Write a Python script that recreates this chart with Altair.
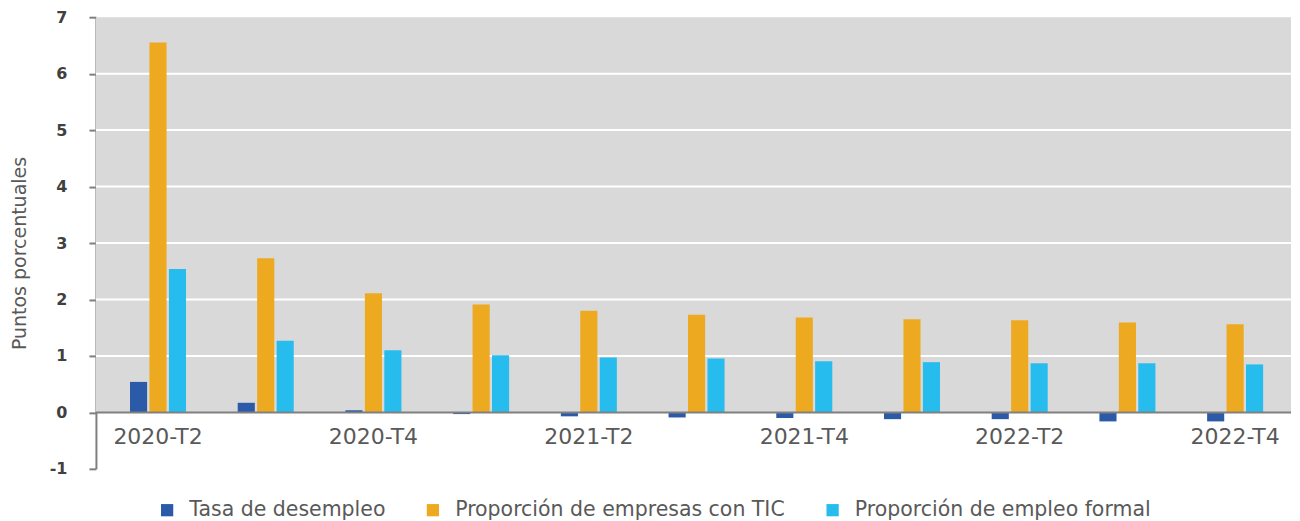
import altair as alt
import pandas as pd

quarters = ["2020-T2", "2020-T3", "2020-T4", "2021-T1", "2021-T2", "2021-T3",
            "2021-T4", "2022-T1", "2022-T2", "2022-T3", "2022-T4"]
shown_labels = ["2020-T2", "2020-T4", "2021-T2", "2021-T4", "2022-T2", "2022-T4"]
series_names = ["Tasa de desempleo", "Proporción de empresas con TIC", "Proporción de empleo formal"]
series_colors = ["#2B5BA8", "#EDA920", "#27BCEE"]
desempleo = [0.54, 0.17, 0.04, -0.03, -0.07, -0.09, -0.10, -0.12, -0.12, -0.16, -0.16]
empresas_tic = [6.55, 2.73, 2.11, 1.91, 1.80, 1.73, 1.68, 1.65, 1.63, 1.59, 1.56]
empleo_formal = [2.54, 1.27, 1.10, 1.01, 0.97, 0.955, 0.905, 0.89, 0.87, 0.87, 0.85]
y_ticks = [-1, 0, 1, 2, 3, 4, 5, 6, 7]
grid_values = [1, 2, 3, 4, 5, 6]
y_min, y_max = -1, 7

rows = []
for name, vals in zip(series_names, [desempleo, empresas_tic, empleo_formal]):
    for q, v in zip(quarters, vals):
        rows.append({"trimestre": q, "serie": name, "valor": v})
df = pd.DataFrame(rows)

FONT = "DejaVu Sans"
W, H = 1196, 452

yscale = alt.Scale(domain=[y_min, y_max], nice=False)

background = alt.Chart(pd.DataFrame({"a": [0]})).mark_rect(color="#D9D9D9").encode(
    x=alt.value(0), x2=alt.value(W),
    y=alt.datum(y_max, scale=yscale), y2=alt.datum(0),
)

grid = alt.Chart(pd.DataFrame({"g": grid_values})).mark_rule(color="#FFFFFF", strokeWidth=2).encode(
    y=alt.Y("g:Q", scale=yscale)
)

bars = alt.Chart(df).mark_bar().encode(
    x=alt.X("trimestre:N", sort=quarters,
            scale=alt.Scale(paddingInner=0.48, paddingOuter=0.2875, align=0.55),
            axis=alt.Axis(title=None, values=shown_labels, orient="bottom", offset=-56,
                          domain=False, ticks=False, labelAngle=0, labelPadding=14,
                          labelFont=FONT, labelFontSize=22, labelColor="#595959")),
    xOffset=alt.XOffset("serie:N", sort=series_names, scale=alt.Scale(paddingInner=0.12)),
    y=alt.Y("valor:Q", scale=yscale,
            axis=alt.Axis(title="Puntos porcentuales", values=y_ticks, grid=False,
                          labelExpr="datum.value < 0 ? '-' + toString(-datum.value) : toString(datum.value)",
                          domainColor="#7F7F7F", domainWidth=2,
                          tickColor="#7F7F7F", tickWidth=2, tickSize=7,
                          labelPadding=22, labelFont=FONT, labelFontSize=16,
                          labelFontWeight="bold", labelColor="#404040",
                          titleFont=FONT, titleFontSize=19, titleFontWeight="normal",
                          titleColor="#595959", titlePadding=20, titleY=236)),
    color=alt.Color("serie:N", sort=series_names,
                    scale=alt.Scale(domain=series_names, range=series_colors),
                    legend=alt.Legend(title=None, orient="none", direction="horizontal",
                                      legendX=61, legendY=483,
                                      symbolType="square", symbolSize=150,
                                      symbolStrokeWidth=0, labelFont=FONT,
                                      labelFontSize=20.5, labelColor="#595959", labelLimit=0,
                                      labelOffset=12, columnPadding=37)),
)

zero = alt.Chart(pd.DataFrame({"z": [0]})).mark_rule(color="#808080", strokeWidth=2).encode(
    y=alt.Y("z:Q", scale=yscale)
)

chart = alt.layer(background, grid, bars, zero).properties(
    width=W, height=H, padding={"left": 2, "top": 1, "right": 0, "bottom": 0}
).configure_view(stroke=None)

chart.save("out.html", embed_options={"renderer": "svg", "actions": False})
